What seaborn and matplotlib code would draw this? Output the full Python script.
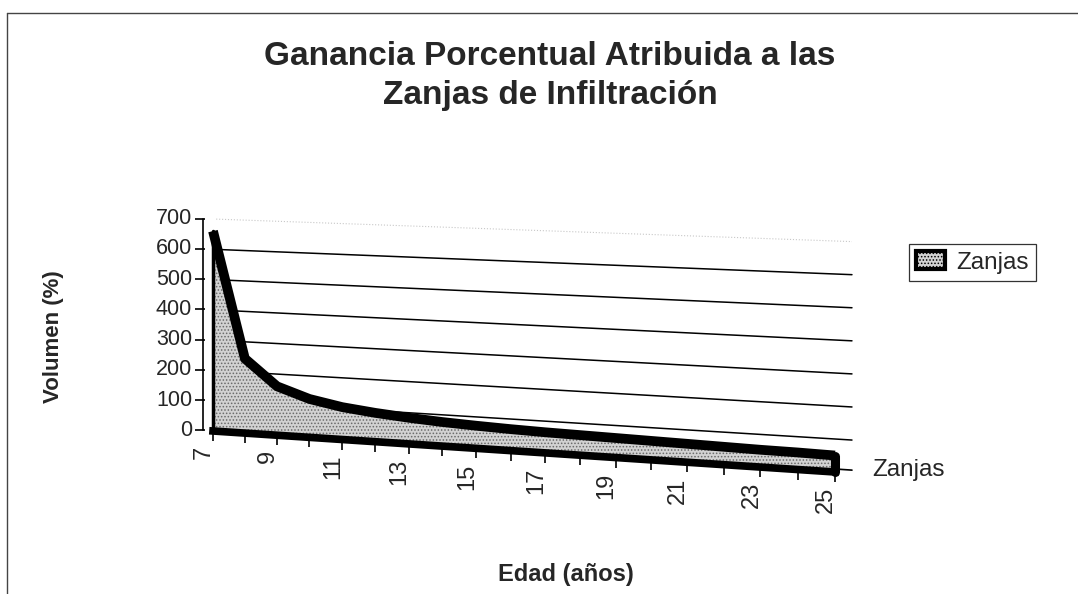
import numpy as np
import matplotlib
matplotlib.use("Agg")
import matplotlib.pyplot as plt
import matplotlib.transforms as mtransforms
from matplotlib.lines import Line2D
from matplotlib.patches import Patch
import seaborn as sns

# ---------------- data ----------------
years = [7, 8, 9, 10, 11, 12, 13, 14, 15, 16, 17, 18, 19, 20, 21, 22, 23, 24, 25]
zanjas = [660, 245, 160, 125, 105, 93, 84, 77, 72, 68, 65, 63, 61, 59, 57, 55, 53, 52, 50]
y_ticks = [0, 100, 200, 300, 400, 500, 600, 700]
y_tick_labels = ["0", "100", "200", "300", "400", "500", "600", "700"]
x_tick_labels = [7, 9, 11, 13, 15, 17, 19, 21, 23, 25]
series_name = "Zanjas"
title = "Ganancia Porcentual Atribuida a las\nZanjas de Infiltración"
x_label = "Edad (años)"
y_label = "Volumen (%)"

# ---------------- style ----------------
sns.set_style("white")
plt.rcParams["font.family"] = ["Liberation Sans", "DejaVu Sans"]
plt.rcParams["hatch.linewidth"] = 0.7

FILL = "#d2d2d2"
STIPPLE = "#6a6a6a"

W, H = 1078, 594
fig = plt.figure(figsize=(W / 100, H / 100), dpi=100)
ax = fig.add_axes([0, 0, 1, 1])
ax.set_axis_off()
ax.set_xlim(years[0], years[-1])
ax.set_ylim(y_ticks[0], y_ticks[-1])
ax.set_autoscale_on(False)


# perspective (3-D look) transform: axes fraction -> display pixels
def homography(src, dst):
    A, b = [], []
    for (x, y), (u, v) in zip(src, dst):
        A.append([x, y, 1, 0, 0, 0, -u * x, -u * y]); b.append(u)
        A.append([0, 0, 0, x, y, 1, -v * x, -v * y]); b.append(v)
    h = np.linalg.solve(np.array(A, float), np.array(b, float))
    return np.append(h, 1.0).reshape(3, 3)


class Persp(mtransforms.Transform):
    input_dims = 2
    output_dims = 2
    is_separable = False
    has_inverse = False

    def __init__(self, Hm):
        super().__init__()
        self.Hm = Hm

    def transform_non_affine(self, values):
        v = np.asarray(values, float).reshape(-1, 2)
        p = np.hstack([v, np.ones((len(v), 1))]) @ self.Hm.T
        return p[:, :2] / p[:, 2:3]


corners_px = [(213, H - 431), (835, H - 472), (213, H - 219), (835, H - 241)]
Hm = homography([(0, 0), (1, 0), (0, 1), (1, 1)], corners_px)
tr = ax.transData + ax.transAxes.inverted() + Persp(Hm)


def off(dx, dy):
    return mtransforms.offset_copy(tr, fig=fig, x=dx, y=dy, units="dots")


x_wall_left = years[0] - 0.31
x_wall_right = years[-1] + 0.45

# back-wall gridlines
for v in y_ticks[1:]:
    last = v == y_ticks[-1]
    ax.plot([years[0] + 0.1, x_wall_right], [v, v], transform=tr,
            color="#c8c8c8" if last else "black", lw=0.8 if last else 1.1,
            ls=":" if last else "-", zorder=1)

# value axis line + ticks
ax.plot([x_wall_left, x_wall_left], [y_ticks[0], y_ticks[-1]], transform=tr,
        color="black", lw=1.2, zorder=2)
ax.plot([x_wall_left] * len(y_ticks), y_ticks, transform=off(-3, 0),
        ls="none", marker="_", ms=7, mew=1.2, color="black", zorder=2)
for v, lab in zip(y_ticks, y_tick_labels):
    ax.text(x_wall_left, v, lab, transform=off(-11, 0), ha="right",
            va="center", fontsize=15.5)

# area (ribbon)
base = np.zeros(len(years))
ax.fill_between(years, base, zanjas, transform=tr, facecolor=FILL,
                hatch=".....", edgecolor=STIPPLE, linewidth=0, zorder=3)
sns.lineplot(x=years, y=zanjas, ax=ax, color="black", lw=7,
             transform=tr, solid_joinstyle="round", solid_capstyle="butt",
             zorder=5)
ax.plot(years, base, transform=tr, color="black", lw=5.5, zorder=5,
        solid_capstyle="projecting")
ax.plot([years[0], years[0]], [0, zanjas[0]], transform=tr, color="black",
        lw=2.5, zorder=4)
ax.plot([years[-1], years[-1]], [0, zanjas[-1]], transform=tr, color="black",
        lw=6.5, zorder=5)

# category ticks + labels
ax.plot(years, base, transform=off(0, -6), ls="none", marker="|", ms=6,
        mew=1.2, color="black", zorder=4)
for yr in x_tick_labels:
    ax.text(yr, 0, str(yr), transform=off(-9, -15), rotation=90,
            ha="center", va="top", fontsize=17)

# depth (series) axis tick and label
ax.plot([years[-1] + 0.1, x_wall_right], [0, 0], transform=off(0, 3),
        color="black", lw=1.2, zorder=4)
ax.text(years[-1], 0, series_name, transform=off(37, 2), ha="left",
        va="center", fontsize=17.5)

# titles and axis labels
fig.text(550 / W, 1 - 76 / H, title, ha="center", va="center", fontsize=24,
         fontweight="bold", linespacing=1.33)
fig.text(566 / W, 1 - 575 / H, x_label, ha="center", va="center",
         fontsize=17, fontweight="bold")
fig.text(54 / W, 1 - 337 / H, y_label, ha="center", va="center",
         fontsize=16, fontweight="bold", rotation=90)

# legend
handle = Patch(facecolor=FILL, hatch=".....", edgecolor="black",
               linewidth=3)
leg = fig.legend([handle], [series_name], loc="upper left",
                 bbox_to_anchor=(909 / W, 1 - 244 / H), borderaxespad=0,
                 fontsize=17.5, frameon=True, fancybox=False, framealpha=1,
                 edgecolor="#333333", handlelength=1.2, handleheight=0.75,
                 handletextpad=0.45, borderpad=0.3)
leg.get_frame().set_linewidth(0.9)

# page frame (left and top border)
fig.add_artist(Line2D([7 / W, 7 / W], [0, 1 - 13 / H], transform=fig.transFigure,
                      color="#444444", lw=1))
fig.add_artist(Line2D([7 / W, 1], [1 - 13 / H, 1 - 13 / H],
                      transform=fig.transFigure, color="#444444", lw=1))

fig.savefig("out.png", dpi=100)
